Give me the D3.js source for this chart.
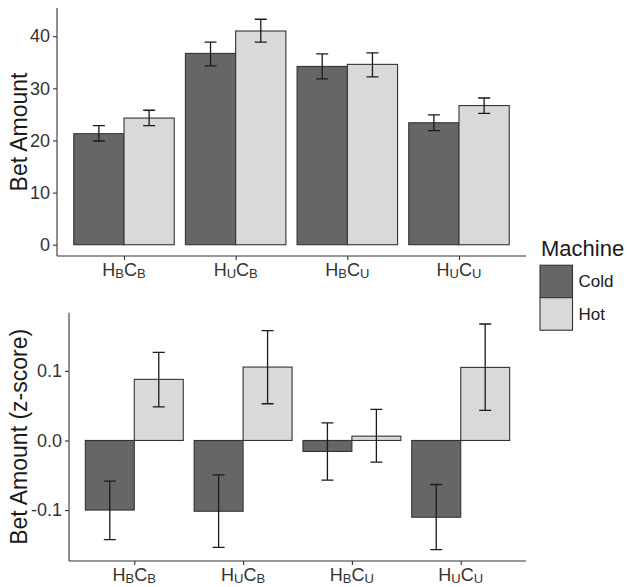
<!DOCTYPE html>
<html>
<head>
<meta charset="utf-8">
<script src="https://cdn.jsdelivr.net/npm/d3@7"></script>
<style>
  body { margin: 0; background: #fff; }
  svg { display: block; font-family: Arial, "Liberation Sans", sans-serif; }
</style>
</head>
<body>
<svg id="chart" width="627" height="587"></svg>
<script>
// categories: subscript of H and of C
var catSubs = [["B", "B"], ["U", "B"], ["B", "U"], ["U", "U"]];
var categories = catSubs.map(function (s) { return "H" + s[0] + "C" + s[1]; });
var seriesNames = ["Cold", "Hot"];
var seriesFill = ["#666666", "#d9d9d9"];

// top panel: bet amount
var coldBet   = [21.3, 36.7, 34.2, 23.4];
var coldBetLo = [19.9, 34.3, 31.8, 21.9];
var coldBetHi = [22.85, 38.85, 36.6, 24.9];
var hotBet    = [24.3, 41.0, 34.6, 26.7];
var hotBetLo  = [22.85, 38.85, 32.2, 25.2];
var hotBetHi  = [25.8, 43.25, 36.8, 28.15];
var betTicks  = [0, 10, 20, 30, 40];

// bottom panel: z-scores
var coldZ   = [-0.100, -0.1017, -0.0158, -0.1103];
var coldZLo = [-0.1425, -0.1535, -0.0571, -0.157];
var coldZHi = [-0.0585, -0.0494, 0.0254, -0.0633];
var hotZ    = [0.0878, 0.1055, 0.0062, 0.105];
var hotZLo  = [0.0484, 0.0528, -0.0312, 0.0432];
var hotZHi  = [0.1266, 0.158, 0.0446, 0.1674];
var zTicks  = [-0.1, 0.0, 0.1];

var svg = d3.select('#chart');
var axisColor = '#333333';

function series(vals, lo, hi) {
    return [vals, lo, hi];
}

panel({
    top: 8, bottom: 256, left: 57, right: 526,
    data: [series(coldBet, coldBetLo, coldBetHi), series(hotBet, hotBetLo, hotBetHi)],
    ticks: betTicks,
    fmt: d3.format('d'),
    title: 'Bet Amount'
});

panel({
    top: 312.7, bottom: 561, left: 69, right: 526,
    data: [series(coldZ, coldZLo, coldZHi), series(hotZ, hotZLo, hotZHi)],
    ticks: zTicks,
    fmt: function (d) { return d3.format('.1f')(d).replace('\u2212', '-'); },
    title: 'Bet Amount (z-score)'
});

legend(541, 255.7);

function panel(o) {
    var g = svg.append('g');

    var lows = [0], highs = [0];
    o.data.forEach(function (s) {
        lows = lows.concat(s[1], s[0]);
        highs = highs.concat(s[2], s[0]);
    });
    var lo = d3.min(lows), hi = d3.max(highs);
    var pad = (hi - lo) * 0.05;

    var y = d3.scaleLinear()
        .domain([lo - pad, hi + pad])
        .range([o.bottom, o.top]);

    var x = d3.scalePoint()
        .domain(categories)
        .range([o.left, o.right])
        .padding(0.6);

    var step = x.step();
    var bw = step * 0.45;

    // bars
    o.data.forEach(function (s, si) {
        g.selectAll(null)
            .data(categories)
            .enter()
            .append('rect')
            .attr('x', function (c) { return x(c) - bw + si * bw; })
            .attr('width', bw)
            .attr('y', function (c, i) { return y(Math.max(0, s[0][i])); })
            .attr('height', function (c, i) { return Math.abs(y(s[0][i]) - y(0)); })
            .attr('fill', seriesFill[si])
            .attr('stroke', axisColor)
            .attr('stroke-width', 1.1);
    });

    // error bars
    var cap = 6;
    o.data.forEach(function (s, si) {
        var eb = g.selectAll(null)
            .data(categories)
            .enter()
            .append('g')
            .attr('stroke', '#1a1a1a')
            .attr('stroke-width', 1.3)
            .attr('fill', 'none');
        var cx = function (c) { return x(c) - bw / 2 + si * bw; };
        eb.append('path')
            .attr('d', function (c, i) {
                var px = cx(c), y1 = y(s[1][i]), y2 = y(s[2][i]);
                return 'M' + (px - cap) + ',' + y2 + 'H' + (px + cap) +
                    'M' + px + ',' + y2 + 'V' + y1 +
                    'M' + (px - cap) + ',' + y1 + 'H' + (px + cap);
            });
    });

    // y axis
    var ya = g.append('g')
        .attr('transform', 'translate(' + o.left + ',0)')
        .call(d3.axisLeft(y).tickValues(o.ticks).tickFormat(o.fmt)
            .tickSize(4).tickPadding(3).tickSizeOuter(0));
    ya.select('.domain').attr('d', 'M0,' + o.top + 'V' + o.bottom);
    style(ya);
    ya.selectAll('text').attr('font-size', 18).attr('fill', '#333');

    // x axis
    var xa = g.append('g')
        .attr('transform', 'translate(0,' + o.bottom + ')')
        .call(d3.axisBottom(x).tickFormat('').tickSize(4).tickSizeOuter(0));
    xa.select('.domain').attr('d', 'M' + o.left + ',0H' + o.right);
    style(xa);

    catSubs.forEach(function (s, i) {
        var t = g.append('text')
            .attr('x', x(categories[i]))
            .attr('y', o.bottom + 19.5)
            .attr('text-anchor', 'middle')
            .attr('font-size', 18)
            .attr('fill', '#333');
        t.append('tspan').text('H');
        t.append('tspan').attr('font-size', 13).attr('dy', 2).text(s[0]);
        t.append('tspan').attr('dy', -2).text('C');
        t.append('tspan').attr('font-size', 13).attr('dy', 2).text(s[1]);
    });

    // title
    g.append('text')
        .attr('transform', 'translate(26.5,' + (o.top + o.bottom) / 2 + ') rotate(-90)')
        .attr('text-anchor', 'middle')
        .attr('font-size', 23)
        .attr('fill', '#1a1a1a')
        .text(o.title);
}

function style(a) {
    a.select('.domain').attr('stroke', axisColor).attr('stroke-width', 1.1);
    a.selectAll('.tick line').attr('stroke', axisColor).attr('stroke-width', 1.1);
}

function legend(lx, ly) {
    var g = svg.append('g');
    g.append('text')
        .attr('x', lx)
        .attr('y', ly)
        .attr('font-size', 22)
        .attr('fill', '#1a1a1a')
        .text('Machine');

    var key = 32.5;
    seriesNames.forEach(function (n, i) {
        var ky = ly + 9.5 + i * key;
        g.append('rect')
            .attr('x', lx - 1)
            .attr('y', ky)
            .attr('width', key)
            .attr('height', key)
            .attr('fill', seriesFill[i])
            .attr('stroke', axisColor)
            .attr('stroke-width', 1.1);
        g.append('text')
            .attr('x', lx + key + 5)
            .attr('y', ky + key / 2)
            .attr('dy', '0.35em')
            .attr('font-size', 17)
            .attr('fill', '#1a1a1a')
            .text(n);
    });
}
</script>
</body>
</html>
